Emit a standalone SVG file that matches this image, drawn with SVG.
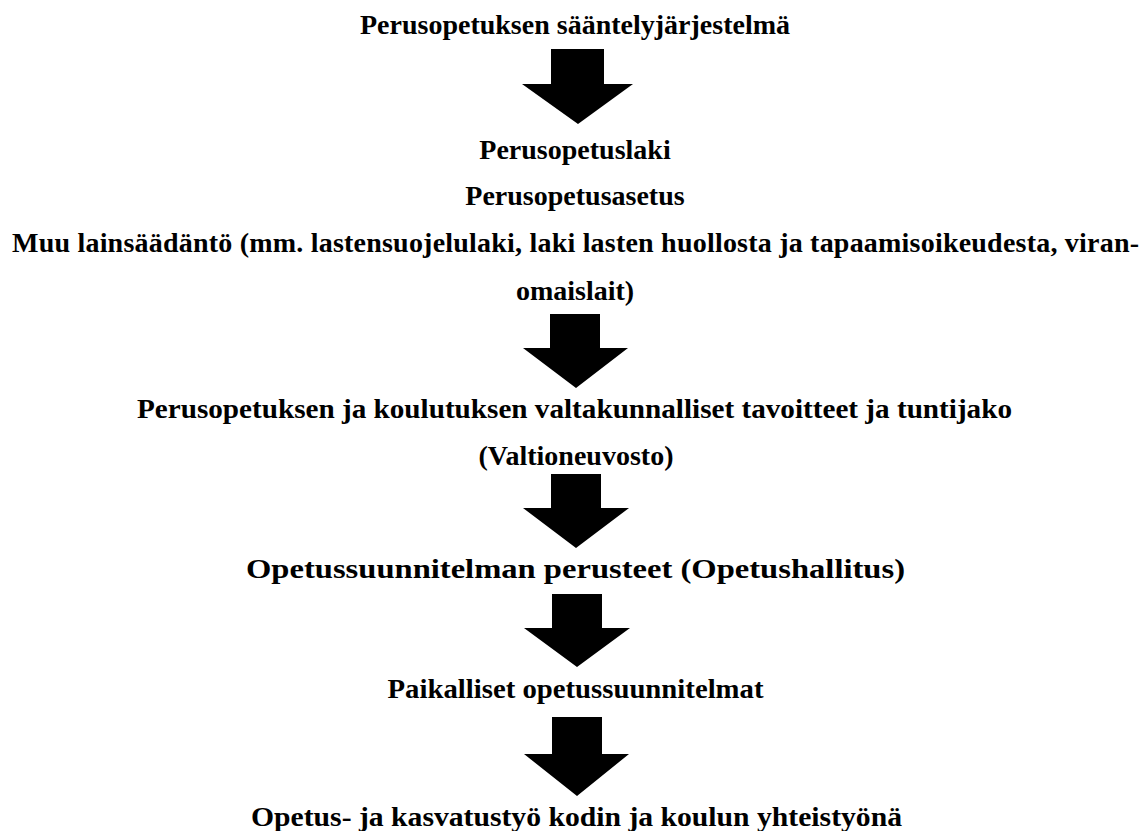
<svg xmlns="http://www.w3.org/2000/svg" width="1148" height="831" viewBox="0 0 1148 831">
<style>
  .t { font-family: "Liberation Serif", "DejaVu Serif", serif; font-weight: bold; font-size: 28px; fill: #000; text-anchor: middle; }
  .a { fill: #000; stroke: none; }
</style>
<rect width="1148" height="831" fill="#fff"/>
<g id="n1"><text class="t" x="575" y="34">Perusopetuksen sääntelyjärjestelmä</text></g>
<g id="n2">
  <text class="t" x="575" y="159">Perusopetuslaki</text>
  <text class="t" x="575" y="205">Perusopetusasetus</text>
  <text class="t" x="575.5" y="252" textLength="1127" lengthAdjust="spacing">Muu lainsäädäntö (mm. lastensuojelulaki, laki lasten huollosta ja tapaamisoikeudesta, viran-</text>
  <text class="t" x="575" y="300">omaislait)</text>
</g>
<g id="n3">
  <text class="t" x="574.5" y="418" textLength="875" lengthAdjust="spacingAndGlyphs">Perusopetuksen ja koulutuksen valtakunnalliset tavoitteet ja tuntijako</text>
  <text class="t" x="576" y="465">(Valtioneuvosto)</text>
</g>
<g id="n4"><text class="t" x="575.5" y="578" textLength="659" lengthAdjust="spacingAndGlyphs">Opetussuunnitelman perusteet (Opetushallitus)</text></g>
<g id="n5"><text class="t" x="575.5" y="698" textLength="376" lengthAdjust="spacingAndGlyphs">Paikalliset opetussuunnitelmat</text></g>
<g id="n6"><text class="t" x="576.5" y="826" textLength="651" lengthAdjust="spacingAndGlyphs">Opetus- ja kasvatustyö kodin ja koulun yhteistyönä</text></g>
<g id="connectors">
  <polygon class="a" points="551,49 604,49 604,84 633,84 578,124 522,84 551,84"/>
  <polygon class="a" points="550,314 600,314 600,348 628,348 576,388 523,348 550,348"/>
  <polygon class="a" points="551,474 601,474 601,508 629,508 576,548 523,508 551,508"/>
  <polygon class="a" points="552,594 602,594 602,628 630,628 577,667 524,628 552,628"/>
  <polygon class="a" points="552,717 602,717 602,754 629,754 577,796 524,754 552,754"/>
</g>
</svg>
